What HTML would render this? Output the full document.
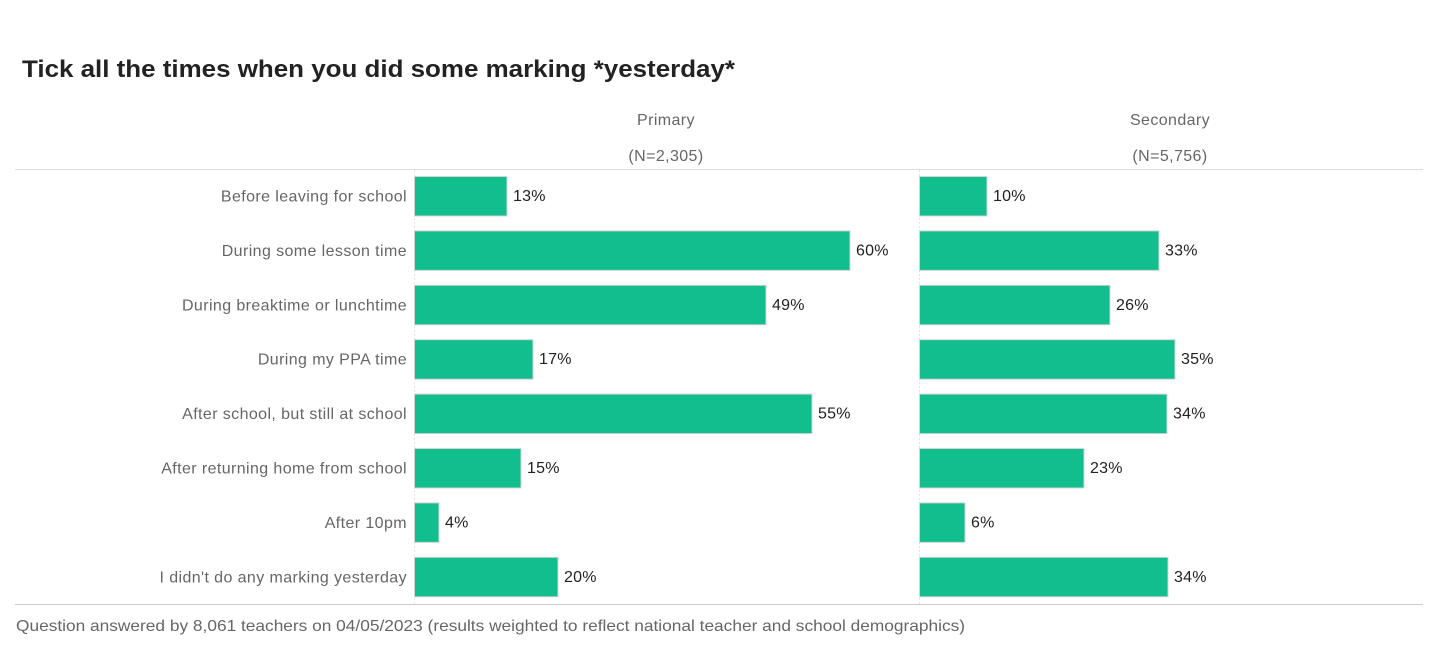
<!DOCTYPE html>
<html><head><meta charset="utf-8"><style>
html,body{margin:0;padding:0;background:#fff;}
svg{display:block;font-family:"Liberation Sans",sans-serif;}
</style></head><body>
<svg width="1440" height="655" viewBox="0 0 1440 655" xmlns="http://www.w3.org/2000/svg">
<text x="22" y="77" font-size="24" font-weight="bold" fill="#222" textLength="713" lengthAdjust="spacingAndGlyphs">Tick all the times when you did some marking *yesterday*</text>
<g font-size="16" fill="#666" text-anchor="middle" letter-spacing="0.4">
<text x="666" y="125">Primary</text>
<text x="666" y="161">(N=2,305)</text>
<text x="1170" y="125">Secondary</text>
<text x="1170" y="161">(N=5,756)</text>
</g>
<line x1="15" y1="169.5" x2="1423" y2="169.5" stroke="#ddd"/>
<line x1="15" y1="604.5" x2="1423" y2="604.5" stroke="#ccc"/>
<line x1="414.5" y1="170" x2="414.5" y2="604" stroke="#e4e4e4" stroke-dasharray="2,2"/>
<line x1="919.5" y1="170" x2="919.5" y2="604" stroke="#e4e4e4" stroke-dasharray="2,2"/>
<g id="bars" fill="#12BD8E" stroke="#d4d4d4" stroke-width="1"></g>
<g id="lbl" font-size="16" fill="#666" text-anchor="end" letter-spacing="0.4"></g>
<g id="val" font-size="16" fill="#222" letter-spacing="0.2"></g>
<text x="16" y="631" font-size="16" fill="#666" textLength="949" lengthAdjust="spacingAndGlyphs">Question answered by 8,061 teachers on 04/05/2023 (results weighted to reflect national teacher and school demographics)</text>
</svg>
<script>
var d=[["Before leaving for school",13,10,507,987],["During some lesson time",60,33,850,1159],["During breaktime or lunchtime",49,26,766,1110],["During my PPA time",17,35,533,1175],["After school, but still at school",55,34,812,1167],["After returning home from school",15,23,521,1084],["After 10pm",4,6,439,965],["I didn't do any marking yesterday",20,34,558,1168]];
var ns="http://www.w3.org/2000/svg";
function el(g,t,a,txt){var e=document.createElementNS(ns,t);for(var k in a)e.setAttribute(k,a[k]);if(txt)e.textContent=txt;document.getElementById(g).appendChild(e);}
d.forEach(function(r,i){var y=176.5+i*54.4,c=y+20;
el("lbl","text",{x:407,y:c+5},r[0]);
el("bars","rect",{x:414.5,y:y,width:r[3]-414.5,height:39.5});
el("bars","rect",{x:919.5,y:y,width:r[4]-919.5,height:39.5});
el("val","text",{x:r[3]+6,y:c+4.5},r[1]+"%");
el("val","text",{x:r[4]+6,y:c+4.5},r[2]+"%");});
</script>
</body></html>
